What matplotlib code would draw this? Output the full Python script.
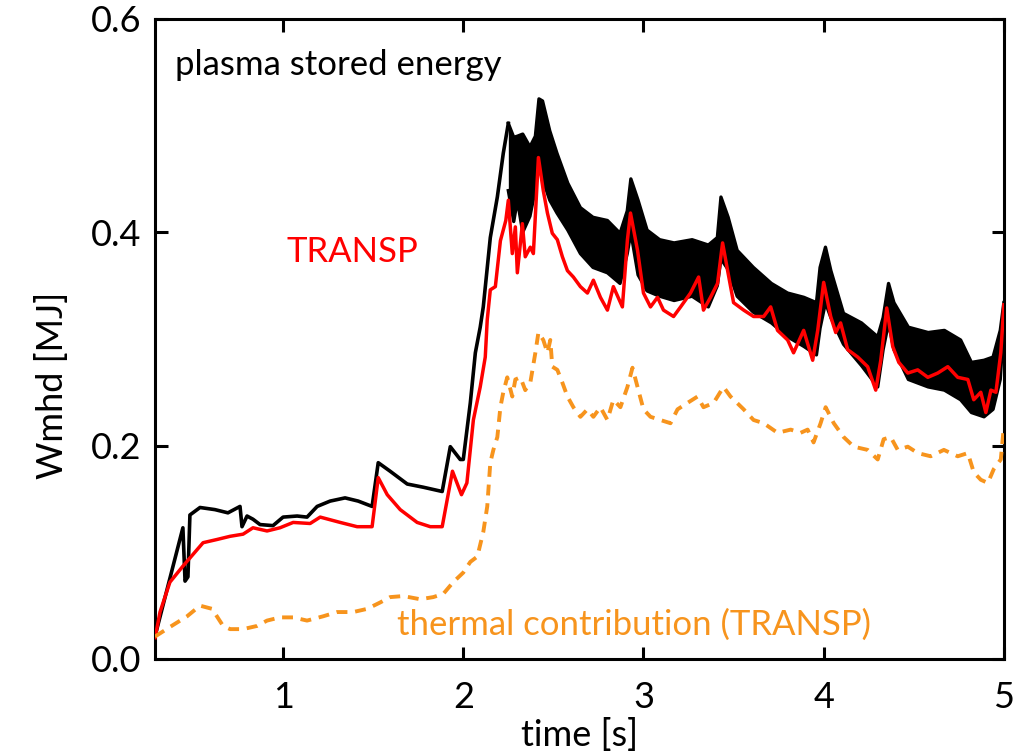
import numpy as np
import matplotlib.pyplot as plt

plt.rcParams['font.family'] = ['Lato', 'DejaVu Sans']

# measured stored energy, single trace before the sawtooth phase
t_meas = [0.289, 0.444, 0.456, 0.472, 0.483, 0.539, 0.622, 0.694, 0.761, 0.772,
          0.80, 0.833, 0.872, 0.944, 1.0, 1.078, 1.133, 1.189, 1.261, 1.344,
          1.417, 1.494, 1.528, 1.594, 1.689, 1.778, 1.883, 1.928, 1.983, 2.0,
          2.039, 2.067, 2.094, 2.111, 2.15, 2.189, 2.222, 2.25]
w_meas = [0.021, 0.123, 0.073, 0.077, 0.135, 0.142, 0.140, 0.137, 0.143, 0.124,
          0.134, 0.131, 0.126, 0.125, 0.133, 0.134, 0.133, 0.143, 0.148, 0.151,
          0.148, 0.143, 0.184, 0.176, 0.164, 0.161, 0.157, 0.199, 0.187, 0.187,
          0.240, 0.287, 0.311, 0.330, 0.395, 0.433, 0.474, 0.502]

# sawtooth phase: upper and lower envelope of the measured trace
t_band = [2.25, 2.28, 2.30, 2.33, 2.37, 2.40, 2.42, 2.44, 2.48, 2.52,
          2.58, 2.65, 2.72, 2.80, 2.87, 2.91, 2.93, 2.97, 3.02, 3.09,
          3.17, 3.27, 3.36, 3.41, 3.43, 3.47, 3.52, 3.61, 3.71, 3.80,
          3.89, 3.96, 3.98, 4.01, 4.04, 4.11, 4.21, 4.30, 4.33, 4.36,
          4.39, 4.47, 4.58, 4.67, 4.76, 4.82, 4.89, 4.94, 4.98, 5.00]
w_band_hi = [0.502, 0.489, 0.490, 0.492, 0.480, 0.490, 0.525, 0.523, 0.495, 0.474,
             0.446, 0.423, 0.414, 0.411, 0.399, 0.420, 0.450, 0.430, 0.402, 0.393,
             0.390, 0.393, 0.388, 0.395, 0.433, 0.414, 0.383, 0.367, 0.352, 0.343,
             0.339, 0.334, 0.367, 0.386, 0.364, 0.324, 0.315, 0.302, 0.320, 0.352,
             0.334, 0.311, 0.306, 0.308, 0.299, 0.278, 0.280, 0.283, 0.308, 0.334]
w_band_lo = [0.439, 0.410, 0.430, 0.400, 0.415, 0.440, 0.465, 0.450, 0.430, 0.418,
             0.402, 0.380, 0.367, 0.362, 0.352, 0.380, 0.400, 0.360, 0.345, 0.340,
             0.336, 0.340, 0.330, 0.350, 0.375, 0.365, 0.340, 0.325, 0.315, 0.302,
             0.293, 0.285, 0.310, 0.334, 0.320, 0.295, 0.275, 0.255, 0.290, 0.315,
             0.290, 0.262, 0.255, 0.252, 0.243, 0.231, 0.227, 0.234, 0.262, 0.315]

# TRANSP total stored energy
t_transp = [0.29, 0.317, 0.372, 0.444, 0.50, 0.556, 0.633, 0.706, 0.778, 0.833,
            0.911, 0.983, 1.056, 1.15, 1.206, 1.317, 1.411, 1.494, 1.528, 1.578,
            1.65, 1.744, 1.817, 1.883, 1.94, 1.99, 2.02, 2.056, 2.094, 2.122,
            2.133, 2.15, 2.178, 2.206, 2.236, 2.25, 2.272, 2.289, 2.30, 2.328,
            2.344, 2.372, 2.389, 2.417, 2.444, 2.467, 2.494, 2.522, 2.55, 2.578,
            2.611, 2.65, 2.689, 2.722, 2.761, 2.80, 2.833, 2.883, 2.911, 2.928,
            2.967, 3.0, 3.039, 3.078, 3.111, 3.167, 3.206, 3.261, 3.306, 3.333,
            3.372, 3.411, 3.439, 3.467, 3.50, 3.556, 3.611, 3.667, 3.706, 3.744,
            3.80, 3.833, 3.889, 3.939, 3.967, 4.0, 4.039, 4.067, 4.094, 4.133,
            4.189, 4.244, 4.289, 4.317, 4.35, 4.383, 4.417, 4.467, 4.522, 4.578,
            4.633, 4.689, 4.744, 4.80, 4.833, 4.872, 4.90, 4.928, 4.956, 4.983, 5.0]
w_transp = [0.020, 0.044, 0.072, 0.087, 0.098, 0.109, 0.112, 0.115, 0.117, 0.123,
            0.120, 0.123, 0.128, 0.127, 0.133, 0.128, 0.124, 0.124, 0.170, 0.154,
            0.140, 0.128, 0.124, 0.124, 0.176, 0.154, 0.165, 0.224, 0.255, 0.283,
            0.318, 0.346, 0.349, 0.392, 0.411, 0.430, 0.380, 0.405, 0.362, 0.408,
            0.377, 0.386, 0.380, 0.470, 0.439, 0.418, 0.399, 0.393, 0.377, 0.364,
            0.358, 0.349, 0.343, 0.355, 0.339, 0.327, 0.349, 0.330, 0.393, 0.418,
            0.383, 0.343, 0.330, 0.339, 0.327, 0.321, 0.330, 0.343, 0.358, 0.327,
            0.339, 0.352, 0.390, 0.364, 0.334, 0.327, 0.321, 0.321, 0.330, 0.308,
            0.299, 0.287, 0.308, 0.280, 0.308, 0.353, 0.321, 0.306, 0.315, 0.290,
            0.283, 0.274, 0.252, 0.280, 0.329, 0.293, 0.278, 0.268, 0.271, 0.264,
            0.268, 0.274, 0.264, 0.262, 0.243, 0.250, 0.231, 0.252, 0.250, 0.287, 0.332]

# TRANSP thermal part
t_th = [0.289, 0.372, 0.467, 0.539, 0.606, 0.667, 0.706, 0.778, 0.856, 0.911,
        0.983, 1.056, 1.133, 1.222, 1.30, 1.389, 1.467, 1.539, 1.594, 1.667,
        1.761, 1.833, 1.889, 1.944, 2.0, 2.039, 2.078, 2.111, 2.133, 2.15,
        2.167, 2.189, 2.206, 2.222, 2.244, 2.272, 2.289, 2.317, 2.344, 2.372,
        2.40, 2.417, 2.444, 2.467, 2.483, 2.494, 2.522, 2.55, 2.578, 2.611,
        2.65, 2.689, 2.722, 2.761, 2.80, 2.833, 2.872, 2.911, 2.939, 2.967,
        3.0, 3.039, 3.094, 3.15, 3.189, 3.244, 3.30, 3.333, 3.389, 3.444,
        3.483, 3.556, 3.611, 3.667, 3.744, 3.817, 3.872, 3.911, 3.944, 3.983,
        4.011, 4.056, 4.111, 4.167, 4.244, 4.30, 4.333, 4.372, 4.411, 4.467,
        4.522, 4.594, 4.667, 4.744, 4.80, 4.833, 4.872, 4.911, 4.944, 4.983, 5.0]
w_th = [0.021, 0.030, 0.040, 0.050, 0.047, 0.031, 0.028, 0.028, 0.031, 0.036,
        0.039, 0.039, 0.036, 0.040, 0.044, 0.044, 0.047, 0.053, 0.058, 0.059,
        0.056, 0.058, 0.061, 0.072, 0.081, 0.091, 0.096, 0.119, 0.143, 0.184,
        0.196, 0.208, 0.236, 0.250, 0.264, 0.246, 0.262, 0.264, 0.252, 0.259,
        0.287, 0.306, 0.299, 0.287, 0.299, 0.274, 0.271, 0.259, 0.246, 0.236,
        0.227, 0.234, 0.227, 0.236, 0.224, 0.243, 0.236, 0.255, 0.273, 0.255,
        0.234, 0.227, 0.224, 0.221, 0.234, 0.240, 0.246, 0.236, 0.240, 0.255,
        0.246, 0.234, 0.224, 0.221, 0.212, 0.215, 0.212, 0.215, 0.203, 0.221,
        0.236, 0.221, 0.208, 0.199, 0.196, 0.187, 0.206, 0.208, 0.196, 0.199,
        0.193, 0.190, 0.196, 0.190, 0.193, 0.175, 0.168, 0.165, 0.178, 0.187, 0.218]

orange = '#f7941d'

fig = plt.figure(figsize=(10.14, 7.54), dpi=100)
ax = fig.add_axes([0.153, 0.126, 0.837, 0.849])

ax.plot(t_meas, w_meas, color='black', lw=2.6, zorder=2)
ax.fill_between(t_band, w_band_lo, w_band_hi, color='black', lw=0, zorder=2)
ax.plot(t_band, w_band_hi, color='black', lw=2.4, zorder=2)
ax.plot(t_band, w_band_lo, color='black', lw=2.4, zorder=2)

ax.plot(t_transp, w_transp, color='#ff0000', lw=2.5, zorder=3)
ax.plot(t_th, w_th, color=orange, lw=2.8, dashes=(2.8, 2.0), zorder=3)

ax.set_xlim(0.29, 5.0)
ax.set_ylim(0.0, 0.6)
ax.set_xticks([1, 2, 3, 4, 5])
ax.set_yticks([0.0, 0.2, 0.4, 0.6])
ax.set_yticklabels(['0.0', '0.2', '0.4', '0.6'])

for sp in ax.spines.values():
    sp.set_linewidth(2.2)
ax.tick_params(direction='in', length=9, width=2.2, top=True, right=True,
               labelsize=26)
ax.tick_params(axis='x', pad=16)
ax.tick_params(axis='y', pad=10)

ax.set_xlabel('time [s]', fontsize=26)
ax.xaxis.set_label_coords(0.5, -0.118)
ax.xaxis.label.set_verticalalignment('center')
ax.set_ylabel('Wmhd [MJ]', fontsize=26)
ax.yaxis.set_label_coords(-0.122, 0.428)
ax.yaxis.label.set_verticalalignment('center')

ax.text(0.0236, 0.9125, 'plasma stored energy', transform=ax.transAxes,
        fontsize=25, va='baseline', ha='left', color='black')
ax.text(0.155, 0.620, 'TRANSP', transform=ax.transAxes,
        fontsize=25, va='baseline', ha='left', color='#ff0000')
ax.text(0.285, 0.0375, 'thermal contribution (TRANSP)', transform=ax.transAxes,
        fontsize=25, va='baseline', ha='left', color=orange)

fig.savefig('out.png', dpi=100)
